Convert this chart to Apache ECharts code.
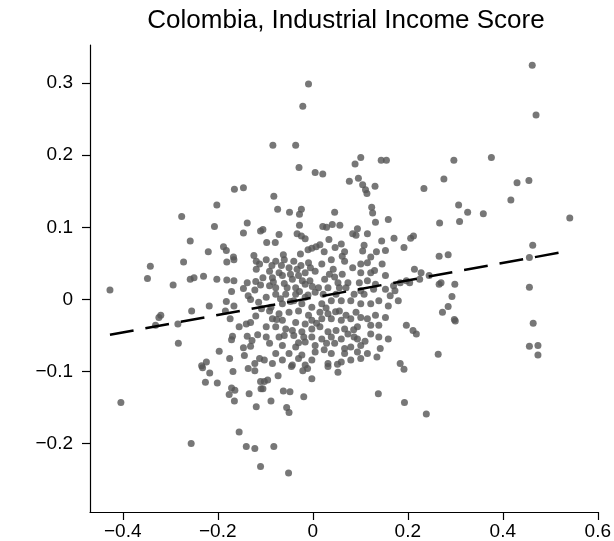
<!DOCTYPE html>
<html>
<head>
<meta charset="utf-8">
<script src="https://cdn.jsdelivr.net/npm/echarts@6/dist/echarts.min.js"></script>
<style>
html,body{margin:0;padding:0;background:#fff;}
#chart{width:614px;height:541px;}
</style>
</head>
<body>
<div id="chart"></div>
<script>
const titleText = "Colombia, Industrial Income Score";
const xTicks = [-0.4, -0.2, 0, 0.2, 0.4, 0.6];
const yTicks = [-0.2, -0.1, 0, 0.1, 0.2, 0.3];
const fitX = [-0.427, 0.537];
const fitY = [-0.049, 0.067];
const points = [
[-0.009,0.299],[-0.021,0.268],[-0.084,0.214],[-0.036,0.214],[0.462,0.325],[0.470,0.256],
[-0.165,0.153],[-0.146,0.155],[-0.202,0.131],[-0.276,0.115],[-0.207,0.101],[-0.138,0.106],
[-0.146,0.092],[-0.110,0.095],[-0.258,0.081],[-0.220,0.066],[-0.188,0.073],[-0.182,0.068],
[-0.167,0.059],[-0.124,0.061],
[0.101,0.197],[0.089,0.188],[0.144,0.193],[0.155,0.193],[-0.029,0.183],[0.005,0.176],
[0.021,0.174],[0.077,0.164],[0.096,0.168],[0.105,0.159],[0.131,0.157],[0.111,0.152],
[0.114,0.147],[0.234,0.154],[-0.082,0.143],[-0.074,0.125],[-0.049,0.121],[-0.024,0.125],
[-0.028,0.118],[0.046,0.121],[0.124,0.128],[0.126,0.120],[0.159,0.111],[0.132,0.107],
[-0.028,0.103],[0.021,0.101],[0.029,0.100],[0.041,0.104],[0.057,0.103],[0.094,0.098],
[0.084,0.091],[0.091,0.089],[0.115,0.091],[-0.105,0.097],[-0.071,0.090],[-0.033,0.091],
[-0.024,0.088],[-0.016,0.084],[-0.097,0.079],[-0.079,0.079],[0.034,0.083],[0.060,0.077],
[0.145,0.081],[0.171,0.085],[0.206,0.085],[0.212,0.088],[0.192,0.072],[0.108,0.075],
[-0.002,0.071],[0.007,0.073],[0.015,0.076],[-0.010,0.069],[0.047,0.072],[0.067,0.066],
[0.105,0.067],[0.134,0.066],[0.153,0.068],[-0.062,0.062],[-0.026,0.063],[0.024,0.066],
[0.122,0.059],
[0.297,0.193],[0.376,0.197],[0.276,0.167],[0.430,0.162],[0.455,0.165],[0.417,0.138],
[0.307,0.131],[0.326,0.121],[0.359,0.119],[0.267,0.106],[0.309,0.108],[0.541,0.113],
[0.463,0.075],[0.266,0.060],[0.285,0.062],[0.456,0.058],
[-0.427,0.013],[-0.342,0.046],[-0.272,0.052],[-0.348,0.029],[-0.294,0.020],[-0.258,0.028],
[-0.250,0.030],[-0.230,0.032],[-0.202,0.028],[-0.181,0.027],[-0.166,0.026],[-0.181,0.052],
[-0.166,0.055],[-0.138,0.023],[-0.120,0.025],[-0.146,0.015],[-0.122,0.013],[-0.171,0.011],
[-0.136,0.005],[-0.131,0.000],[-0.182,-0.003],[-0.166,-0.009],[-0.114,-0.004],[-0.218,-0.009],
[-0.255,-0.016],[-0.184,-0.016],[-0.320,-0.022],[-0.324,-0.025],[-0.331,-0.036],[-0.284,-0.034],
[-0.174,-0.027],[-0.120,-0.023],[-0.155,-0.038],[-0.140,-0.034],[-0.131,-0.032],[-0.116,-0.049],
[-0.138,-0.051],[-0.169,-0.051],[-0.171,-0.056],[-0.128,-0.057],[-0.146,-0.067],[-0.131,-0.065],
[-0.283,-0.061],[-0.197,-0.072],[-0.144,-0.078],[-0.175,-0.082],[-0.122,-0.089],[-0.224,-0.087],
[-0.234,-0.092],[-0.112,-0.082],[-0.119,0.053],[-0.112,0.049],[-0.119,0.042],
[-0.098,0.055],[-0.078,0.053],[-0.060,0.055],[-0.040,0.053],[-0.009,0.051],[0.019,0.049],
[0.039,0.055],[0.067,0.053],[0.101,0.049],[0.115,0.051],[0.146,0.049],[-0.091,0.039],
[-0.071,0.037],[-0.050,0.044],[-0.033,0.042],[-0.016,0.037],[0.005,0.039],[0.043,0.042],
[0.084,0.044],[0.101,0.037],[0.122,0.037],[0.153,0.033],[0.214,0.042],[0.228,0.037],
[0.245,0.033],[-0.105,0.030],[-0.085,0.030],[-0.064,0.033],[-0.043,0.028],[-0.030,0.033],
[-0.006,0.026],[0.025,0.028],[0.053,0.023],[0.074,0.023],[0.098,0.023],[0.115,0.026],
[0.132,0.021],[0.170,0.019],[0.184,0.023],[0.197,0.026],[-0.091,0.019],[-0.078,0.016],
[-0.054,0.016],[-0.036,0.016],[-0.016,0.021],[0.012,0.016],[0.032,0.016],[0.056,0.016],
[0.070,0.016],[0.101,0.012],[0.128,0.014],[0.153,0.014],[0.173,0.012],[0.204,0.023],
[0.225,0.028],[-0.098,0.003],[-0.078,0.007],[-0.057,0.007],[-0.036,0.007],[-0.016,0.003],
[0.005,0.010],[0.022,0.007],[0.049,0.007],[0.087,0.007],[0.108,0.007],[0.163,0.005],
[0.180,-0.002],[0.139,-0.002],[0.122,-0.006],[0.101,-0.006],[0.080,-0.002],[0.060,-0.002],
[0.039,-0.002],[0.019,-0.006],[-0.002,-0.011],[-0.023,-0.006],[-0.040,-0.002],[-0.064,-0.006],
[-0.088,-0.011],[0.159,-0.009],[-0.091,-0.016],[-0.071,-0.020],[-0.050,-0.018],[-0.030,-0.016],
[-0.009,-0.022],[0.015,-0.018],[0.032,-0.020],[0.056,-0.016],[0.070,-0.022],[0.091,-0.018],
[0.101,-0.025],[0.115,-0.027],[0.132,-0.022],[0.153,-0.025],[0.060,-0.029],[0.080,-0.027],
[0.039,-0.027],[0.019,-0.027],[-0.002,-0.029],[-0.016,-0.034],[-0.036,-0.032],[-0.064,-0.029],
[-0.085,-0.027],[0.197,-0.036],[0.211,-0.043],[0.218,-0.048],[-0.098,-0.038],[-0.078,-0.038],
[-0.057,-0.041],[-0.043,-0.043],[-0.023,-0.045],[-0.002,-0.041],[0.015,-0.038],[0.032,-0.045],
[0.049,-0.043],[0.067,-0.041],[0.074,-0.048],[0.094,-0.038],[0.122,-0.036],[0.139,-0.036],
[-0.098,-0.052],[-0.071,-0.052],[-0.040,-0.050],[-0.019,-0.052],[-0.002,-0.052],[0.019,-0.055],
[0.039,-0.052],[0.060,-0.055],[0.087,-0.052],[0.122,-0.048],[0.139,-0.052],[0.159,-0.055],
[0.094,-0.055],[-0.091,-0.061],[-0.064,-0.064],[-0.036,-0.066],[-0.016,-0.059],[0.005,-0.064],
[0.029,-0.061],[0.046,-0.061],[0.067,-0.068],[0.080,-0.066],[0.101,-0.064],[0.142,-0.068],
[-0.078,-0.075],[-0.050,-0.075],[-0.023,-0.077],[0.005,-0.073],[0.039,-0.075],[0.067,-0.075],
[0.094,-0.073],[0.115,-0.075],[0.135,-0.080],[-0.102,-0.084],[-0.064,-0.084],[-0.030,-0.082],
[-0.002,-0.084],[0.032,-0.089],[0.060,-0.087],[0.080,-0.084],[0.101,-0.082],[0.184,-0.089],
[-0.016,-0.091],[-0.043,-0.091],[-0.085,-0.089],
[-0.086,0.047],[-0.066,0.047],[-0.047,0.035],[-0.025,0.047],[-0.005,0.044],[-0.083,0.024],
[-0.060,0.022],[-0.022,0.026],[-0.001,0.018],[-0.068,0.001],[-0.047,-0.003],[-0.028,0.011],
[-0.010,0.006],[0.028,-0.012],[0.046,0.031],[0.062,0.035],[0.035,0.035],[-0.076,-0.028],
[-0.060,-0.050],[-0.030,-0.060],[0.008,-0.033],[0.048,-0.017],[0.086,-0.042],[0.024,-0.070],
[0.052,-0.090],[0.110,-0.058],[-0.110,0.020],[-0.108,-0.013],[0.130,0.040],[0.062,0.060],
[0.266,0.021],[0.299,0.021],[0.270,0.023],[0.293,0.004],[0.285,-0.010],[0.273,-0.018],
[0.298,-0.028],[0.300,-0.030],[0.456,0.017],[0.464,-0.033],[0.456,-0.065],[0.474,-0.064],
[0.474,-0.077],[0.264,-0.076],
[-0.404,-0.143],[-0.256,-0.200],[-0.155,-0.184],[-0.140,-0.204],[-0.122,-0.207],[-0.110,-0.232],
[-0.226,-0.115],[-0.201,-0.116],[-0.217,-0.102],[-0.168,-0.100],[-0.136,-0.096],[-0.122,-0.099],
[-0.110,-0.114],[-0.109,-0.124],[-0.171,-0.123],[-0.164,-0.126],[-0.176,-0.132],[-0.165,-0.141],
[-0.134,-0.131],[-0.119,-0.149],[-0.232,-0.095],
[-0.073,-0.106],[-0.095,-0.112],[-0.102,-0.114],[-0.105,-0.124],[-0.088,-0.141],[-0.062,-0.127],
[-0.048,-0.128],[-0.019,-0.135],[-0.002,-0.110],[-0.021,-0.099],[-0.011,-0.096],[0.053,-0.101],
[-0.055,-0.150],[-0.050,-0.157],[0.138,-0.131],[0.192,-0.097],[0.193,-0.143],[0.239,-0.159],
[-0.082,-0.204],[-0.051,-0.241],[-0.045,-0.093],[0.032,-0.093]
];

function fmt(v){
  const r = Math.round(v*10)/10;
  if (Math.abs(r) < 1e-9) return '0';
  const s = Math.abs(r).toFixed(1);
  return (r < 0 ? '\u2212' : '') + s;
}

const chart = echarts.init(document.getElementById('chart'), null, {renderer:'canvas'});
const font = '"Liberation Sans", Arial, Helvetica, sans-serif';
chart.setOption({
  animation: false,
  backgroundColor: '#ffffff',
  title: {
    text: titleText,
    left: 341, top: 3, textAlign: 'center',
    textStyle: {fontFamily: font, fontSize: 26, fontWeight: 'normal', color: '#000'}
  },
  grid: {left: 90, right: 9, top: 45, bottom: 24, containLabel: false},
  xAxis: {
    type: 'value', min: -0.469, max: 0.6,
    splitLine: {show: false},
    axisLine: {show: true, onZero: false, lineStyle: {color: '#000', width: 1.2}},
    axisTick: {show: true, length: 8, customValues: xTicks, lineStyle: {color: '#000', width: 1.2}},
    axisLabel: {customValues: xTicks, formatter: fmt, margin: 10, fontFamily: font, fontSize: 19, color: '#000'}
  },
  yAxis: {
    type: 'value', min: -0.295, max: 0.353,
    splitLine: {show: false},
    axisLine: {show: true, onZero: false, lineStyle: {color: '#000', width: 1.2}},
    axisTick: {show: true, length: 8, customValues: yTicks, lineStyle: {color: '#000', width: 1.2}},
    axisLabel: {customValues: yTicks, formatter: fmt, margin: 17, fontFamily: font, fontSize: 19, color: '#000'}
  },
  series: [
    {
      type: 'scatter', data: points, symbolSize: 7,
      itemStyle: {color: '#555555'}, z: 2
    },
    {
      type: 'line', data: fitX.map((x, i) => [x, fitY[i]]),
      showSymbol: false, symbol: 'none',
      lineStyle: {color: '#000', width: 2.5, type: [24, 12]}, z: 3
    }
  ]
});
</script>
</body>
</html>
